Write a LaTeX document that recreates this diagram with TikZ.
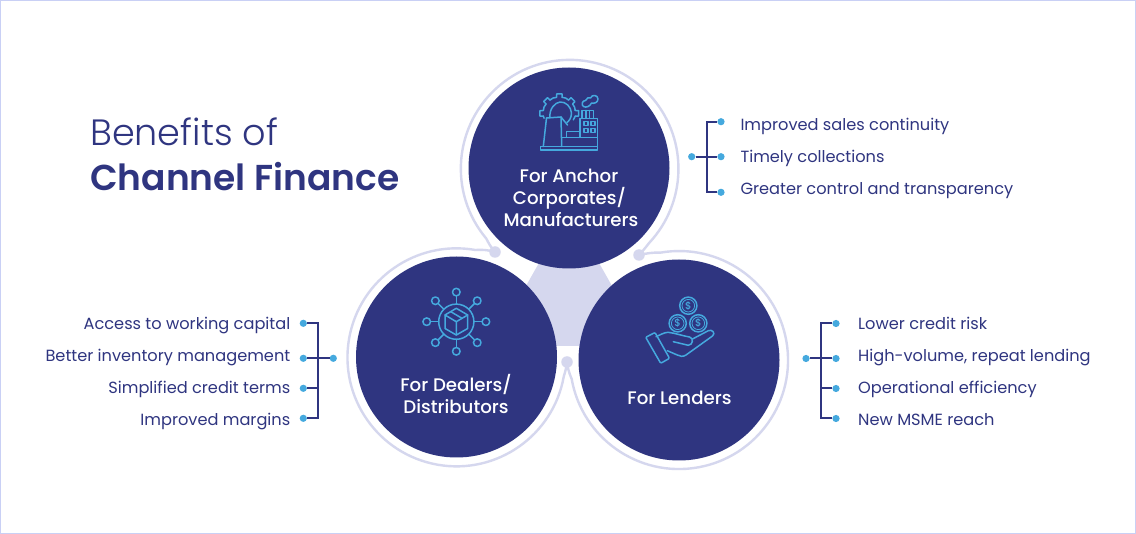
\documentclass[tikz,border=0pt]{standalone}
\usepackage{fontspec}
\setmainfont{Poppins}
\newfontfamily\poplight{Poppins Light}
\newfontfamily\popmed{Poppins Medium}
\newfontfamily\popsemi{Poppins SemiBold}
\definecolor{navy}{HTML}{2F3580}
\definecolor{lilac}{HTML}{D5D7EE}
\definecolor{sky}{HTML}{45A9DE}
\definecolor{edge}{HTML}{C9D0F5}
\tikzset{
  disc/.style={circle,fill=navy,minimum size=201pt,inner sep=0pt},
  ring/.style={draw=lilac,line width=2.4pt,line cap=round},
  knob/.style={circle,fill=lilac,minimum size=11.5pt,inner sep=0pt},
  bullet/.style={circle,fill=sky,minimum size=7.2pt,inner sep=0pt},
  wire/.style={draw=navy,line width=2pt},
  ico/.style={draw=sky,line width=1.5pt,line join=round,line cap=round},
  head/.style={text=white,font=\popmed\fontsize{18.2}{22}\selectfont,align=center,anchor=base},
  itemr/.style={text=navy,font=\fontsize{16.2}{19}\selectfont,anchor=base east},
  iteml/.style={text=navy,font=\fontsize{16.2}{19}\selectfont,anchor=base west},
}
\begin{document}
\begin{tikzpicture}[x=1pt,y=-1pt]
\useasboundingbox (0,0) rectangle (1136,534);
\fill[white] (0,0) rectangle (1136,534);
\draw[edge,line width=1pt] (0.5,0.5) rectangle (1135.5,533.5);
% centre wedge
\fill[lilac] (552,240) -- (586,240) -- (646,346) -- (492,346) -- cycle;
% knobs
\node[knob] (kl) at (495,252) {};
\node[knob] (kr) at (639,255) {};
\node[knob] (kb) at (567,362) {};
% rings
\path[ring] (kl.center) .. controls (491,247.5) and (488.5,243) .. (486.3,238.6)
  arc[start angle=220,delta angle=-263,radius=108.8pt] .. controls (646,247) and (642,252) .. (kr.center);
\path[ring] (kl.center) .. controls (489,250) and (482,249.5) .. (475.4,250)
  arc[start angle=80,delta angle=270,radius=109pt] .. controls (565.5,371) and (566.5,367) .. (kb.center);
\path[ring] (kr.center) .. controls (646,253.5) and (653,252.2) .. (660.1,252.7)
  arc[start angle=100,delta angle=-270,radius=109pt] .. controls (569,373) and (567.5,367) .. (kb.center);
% discs
\node[disc] (top) at (569,168) {};
\node[disc] (left) at (456.5,357) {};
\node[disc] (right) at (679,360) {};
% headings
\node[head] (h1a) at (569,183) {For Anchor};
\node[head] (h1b) at (569.5,205) {Corporates/};
\node[head] (h1c) at (571,227) {Manufacturers};
\node[head] (h2a) at (456,392) {For Dealers/};
\node[head] (h2b) at (456,414) {Distributors};
\node[head] (h3) at (679.5,405) {For Lenders};
% title
\node[text=navy,font=\poplight\fontsize{36.6}{40}\selectfont,anchor=base west,inner sep=0pt] (t1) at (90,146) {Benefits of};
\node[text=navy,font=\popsemi\fontsize{36}{40}\selectfont,anchor=base west,inner sep=0pt] (t2) at (90,191) {Channel Finance};
% top list
\node[bullet] (a0) at (691.7,156.7) {};
\node[bullet] (a1) at (721,121.7) {};
\node[bullet] (a2) at (721,156.7) {};
\node[bullet] (a3) at (721,192.3) {};
\coordinate (aj) at (706.7,156.7);
\draw[wire] (a0) -- (a2);
\draw[wire] (a1) -| (aj) |- (a3);
\node[iteml,inner sep=0pt] (ta1) at (740.3,131) {Improved sales continuity};
\node[iteml,inner sep=0pt] (ta2) at (740.3,163) {Timely collections};
\node[iteml,inner sep=0pt] (ta3) at (740.3,195) {Greater control and transparency};
% left list
\node[bullet] (b0) at (333.3,358.3) {};
\node[bullet] (b1) at (303.3,323.3) {};
\node[bullet] (b2) at (303.3,358.3) {};
\node[bullet] (b3) at (303.3,388.3) {};
\node[bullet] (b4) at (303.3,418.3) {};
\coordinate (bj) at (318,358.3);
\draw[wire] (b0) -- (b2);
\draw[wire] (b1) -| (bj) |- (b4);
\draw[wire] (b3) -- (bj |- b3);
\node[itemr,inner sep=0pt] (tb1) at (290.5,330) {Access to working capital};
\node[itemr,inner sep=0pt] (tb2) at (290.5,362) {Better inventory management};
\node[itemr,inner sep=0pt] (tb3) at (290.5,394) {Simplified credit terms};
\node[itemr,inner sep=0pt] (tb4) at (290.5,426) {Improved margins};
% right list
\node[bullet] (c0) at (806,358.5) {};
\node[bullet] (c1) at (836,323.5) {};
\node[bullet] (c2) at (836,358.5) {};
\node[bullet] (c3) at (836,388.5) {};
\node[bullet] (c4) at (836,418.5) {};
\coordinate (cj) at (821,358.5);
\draw[wire] (c0) -- (c2);
\draw[wire] (c1) -| (cj) |- (c4);
\draw[wire] (c3) -- (cj |- c3);
\node[iteml,inner sep=0pt] (tc1) at (858,330) {Lower credit risk};
\node[iteml,inner sep=0pt] (tc2) at (858,362) {High-volume, repeat lending};
\node[iteml,inner sep=0pt] (tc3) at (858,394) {Operational efficiency};
\node[iteml,inner sep=0pt] (tc4) at (858,426) {New MSME reach};
% factory icon
\begin{scope}
 \foreach \a in {-135,-90,-45,0,-180}{
   \draw[ico,shift={(559.3,113.3)}] (\a-10:16.2) -- (\a-8:19.5) -- (\a+8:19.5) -- (\a+10:16.2);
 }
 \foreach \a in {-180,-135,-90,-45}{
   \draw[ico,shift={(559.3,113.3)}] (\a+10:16.2) -- (\a+22.5:16.5) -- (\a+35:16.2);
 }
 \draw[ico,shift={(559.3,113.3)}] (0+10:16.2) -- (25:15.5);
 \draw[ico,shift={(559.3,113.3)}] (-180-10:16.2) -- (-180-18:16);
 \draw[ico] (550,117.5) .. controls (549,109) and (555,102.5) .. (560,102) .. controls (566,101.5) and (571,107) .. (571.5,113) .. controls (571.5,118) and (569,121) .. (567,122.5);
 \draw[ico] (543.3,146.5) -- (546.5,118) -- (561,117) -- (567.5,125);
 \draw[ico] (561,117) -- (561.7,146.5);
 \draw[ico] (540.7,146.5) rectangle (597.3,150);
 \draw[ico] (561.7,137.3) rectangle (597.3,146.5);
 \draw[ico] (566.7,131.7) rectangle (580,137.3);
 \draw[ico] (580,118.3) rectangle (597.3,137.3);
 \draw[ico] (582,118.3) -- (582,110.5) -- (593.3,110.5) -- (593.3,118.3);
 \draw[ico] (585.8,110.5) -- (585.8,118.3) (589.6,110.5) -- (589.6,118.3);
 \draw[ico] (584,121.5) rectangle (588,125.5) (591,121.5) rectangle (595,125.5);
 \draw[ico] (584,128.5) rectangle (588,132.5) (591,128.5) rectangle (595,132.5);
 \draw[ico] (583.5,106.5) .. controls (581,105) and (582,100.5) .. (585.5,100.5) .. controls (586,97.5) and (589.5,97.5) .. (590.5,98) .. controls (592,94) and (598,95) .. (598,99) .. controls (598,102.5) and (594,104) .. (591.5,103) .. controls (590,106.5) and (586,108) .. (583.5,106.5) -- cycle;
\end{scope}
% network icon
\begin{scope}
 \draw[ico] (456.3,321.7) circle[radius=17.6pt];
 \foreach \a in {0,45,...,315}{
   \draw[ico,shift={(456.3,321.7)}] (\a:17.6) -- (\a:25.7);
   \draw[ico,shift={(456.3,321.7)}] (\a:29.6) circle[radius=3.8pt];
 }
 \draw[ico] (456.3,308.3) -- (467.7,315) -- (467.7,328.5) -- (456.3,335) -- (445,328.5) -- (445,315) -- cycle;
 \draw[ico] (445,315) -- (456.3,321.7) -- (467.7,315) (456.3,321.7) -- (456.3,335);
 \draw[ico] (450.6,311.6) -- (462,318.3);
\end{scope}
% hand icon
\begin{scope}
 \foreach \x/\y/\n in {688.3/305.7/ca,677.7/323.3/cb,698.3/323.3/cc}{
   \draw[ico] (\x,\y) circle[radius=8.6pt];
   \draw[ico,line width=0.8pt] (\x,\y) circle[radius=6.3pt];
   \node[text=sky,font=\popmed\fontsize{10}{10}\selectfont,inner sep=0pt] (\n) at (\x,\y) {\$};
 }
 \draw[ico,rounded corners=1pt] (645.7,337.3) -- (655,332.5) -- (669.5,358.3) -- (660.7,363.3) -- cycle;
 \draw[ico] (656,336.7) .. controls (660,335) and (664,332.5) .. (668,332.3) .. controls (675,333) and (683,336) .. (689.5,337) .. controls (694,338) and (693,345) .. (688.3,345.3) -- (673.3,341.7);
 \draw[ico] (692.5,339) -- (708.3,330.7) .. controls (712,329) and (716,333) .. (712.5,336) -- (686,355) .. controls (683,357) and (680,356.5) .. (677.3,355) -- (667.3,350.7);
\end{scope}
\end{tikzpicture}
\end{document}
